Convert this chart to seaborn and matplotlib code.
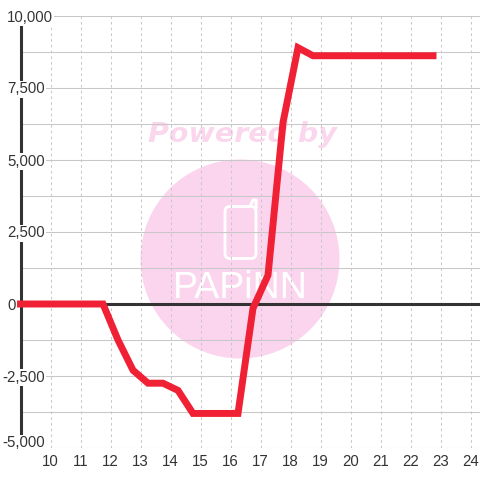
import matplotlib
matplotlib.use("Agg")
from matplotlib import pyplot as plt
from matplotlib.lines import Line2D
from matplotlib.patches import Circle, FancyBboxPatch
from matplotlib.transforms import Affine2D
import seaborn as sns
import pandas as pd

hours = [9, 9.75, 10.75, 11.75, 12.25, 12.75, 13.25, 13.75, 14.25, 14.75, 15.25, 15.75, 16.25,
         16.75, 17.25, 17.75, 18.25, 18.75, 19.75, 20.75, 21.75, 22.75]
values = [0, 0, 0, 0, -1250, -2300, -2750, -2750, -3000, -3800, -3800, -3800, -3800,
          -150, 1000, 6300, 8900, 8620, 8620, 8620, 8620, 8620]
x_ticks = list(range(10, 25))
y_major = [-5000, -2500, 0, 2500, 5000, 7500, 10000]
y_minor = [-3750, -1250, 1250, 3750, 6250, 8750]
y_labels = ["-5,000", "-2,500", "0", "2,500", "5,000", "7,500", "10,000"]

df = pd.DataFrame({"hour": hours, "value": values})

sns.set_theme(style="white")
plt.rcParams["font.family"] = ["Liberation Sans", "DejaVu Sans"]
plt.rcParams["text.hinting"] = "no_autohint"

fig = plt.figure(figsize=(4.8, 4.8), dpi=100)
ax = fig.add_axes([20.5 / 480, 32 / 480, 459.5 / 480, 432 / 480])
ax.set_facecolor("none")

# pixel transform, origin top left like the reference
px = Affine2D().scale(1, -1).translate(0, 480)

# watermark
pink = "#fbd5ed"
fig.add_artist(Circle((240, 259), 99.5, transform=px, facecolor=pink, edgecolor="none", zorder=-5))
fig.add_artist(FancyBboxPatch((225, 206.5), 31, 52, boxstyle="round,pad=0,rounding_size=5", transform=px,
                              facecolor=pink, edgecolor="white", linewidth=2, zorder=-4))
fig.add_artist(Line2D([250, 253, 256, 256], [206.5, 200, 200, 208], transform=px, color="white",
                      linewidth=2.2, zorder=-4))
fig.text(242, 134.5, "Powered by", transform=px, color="#fbd7ee", fontsize=20.5, fontweight="bold",
         fontstyle="italic", family=["DejaVu Sans"], ha="center", va="center", zorder=-4)
fig.text(240, 288, "PAPiNN", transform=px, color="white", fontsize=27, ha="center", va="center",
         family=["Liberation Sans"], zorder=-4)

sns.lineplot(data=df, x="hour", y="value", color="#f02035", linewidth=5, ax=ax, zorder=6,
             solid_capstyle="projecting", solid_joinstyle="miter", errorbar=None, clip_on=False)

ax.set_xlim(9, 10 + 429.5 / 30)
ax.set_ylim(-5000, 10000)
ax.set(xlabel=None, ylabel=None)

ax.set_xticks(x_ticks)
ax.set_xticklabels([str(t) for t in x_ticks])
ax.set_yticks(y_major + y_minor)
ax.set_yticklabels([])
ax.tick_params(axis="both", length=0)
ax.tick_params(axis="x", labelsize=10.8, labelcolor="#333333", pad=5)

ax.grid(axis="y", color="#c8c8c8", linewidth=0.75, linestyle="-")
ax.grid(axis="x", color="#c8c8c8", linewidth=0.75, linestyle=(0, (2.5, 3)))
ax.set_axisbelow(True)

for name in ["top", "right", "bottom"]:
    ax.spines[name].set_visible(False)
ax.spines["left"].set_color("#333333")
ax.spines["left"].set_linewidth(2.2)
ax.spines["left"].set_zorder(3)
ax.axhline(0, color="#333333", linewidth=2.2, zorder=3)

for v, label in zip(y_major, y_labels):
    offset = -13.5 if v >= 0 else -18.5
    dy = 5 if v == -5000 else -1.5
    ax.annotate(label, xy=(9, v), xytext=(offset, dy), textcoords="offset pixels", ha="left", va="center",
                fontsize=10.8, color="#333333", annotation_clip=False, zorder=5,
                bbox=dict(facecolor="white", edgecolor="none", pad=1))

fig.savefig("out.png", dpi=100)
